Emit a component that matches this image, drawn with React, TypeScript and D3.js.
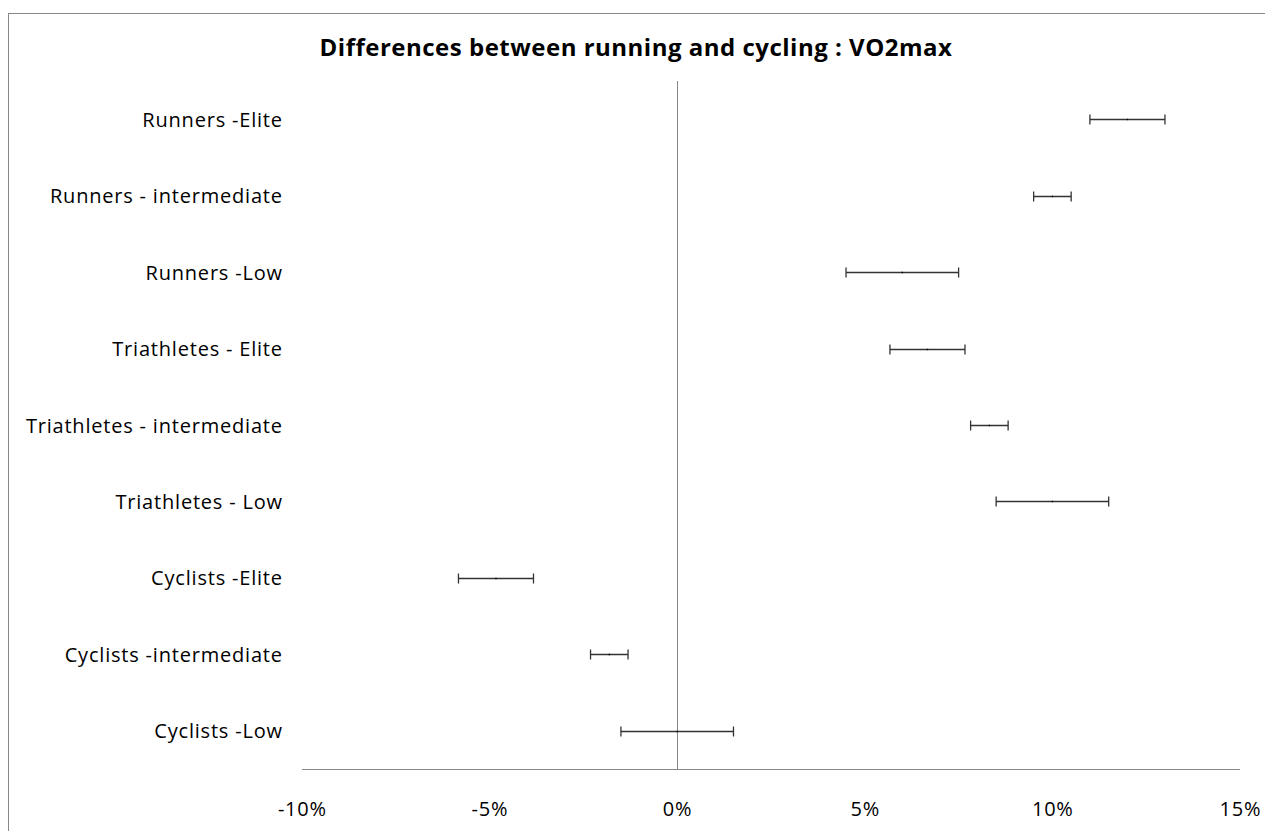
import * as d3 from "d3";

const categories = [
  "Runners -Elite",
  "Runners - intermediate",
  "Runners -Low",
  "Triathletes - Elite",
  "Triathletes - intermediate",
  "Triathletes - Low",
  "Cyclists -Elite",
  "Cyclists -intermediate",
  "Cyclists -Low",
];
// mean difference (%) and error bar half-width (%)
const means = [12, 10, 6, 6.67, 8.32, 10, -4.83, -1.81, 0];
const errors = [1, 0.5, 1.5, 1, 0.5, 1.5, 1, 0.5, 1.5];
const xTicks = [-10, -5, 0, 5, 10, 15];

const W = 1265;
const H = 831;
const left = 302, right = 1240, top = 81, bottom = 769;
const font = "'Open Sans', sans-serif";

export default function App() {
  const x = d3.scaleLinear([-10, 15], [left, right]);
  const y = d3.scaleBand(categories, [top, bottom]);
  const cy = (c: string) => y(c)! + y.bandwidth() / 2;

  return (
    <svg width={W} height={H} style={{ position: "fixed", left: 0, top: 0 }}>
      <rect x={0} y={0} width={W} height={H} fill="white" />
      <rect x={8.5} y={13.5} width={W + 10} height={H + 10} fill="none" stroke="#888" strokeWidth={1} />
      <text x={636} y={46} textAnchor="middle" dominantBaseline="central"
        fontFamily={font} fontWeight="bold" fontSize={24} letterSpacing={0.5} fill="#000">
        Differences between running and cycling : VO2max
      </text>

      {/* axes */}
      <line x1={left} x2={right} y1={bottom + 0.5} y2={bottom + 0.5} stroke="#888" />
      <line x1={Math.round(x(0)) + 0.5} x2={Math.round(x(0)) + 0.5} y1={top} y2={bottom} stroke="#888" />

      {xTicks.map((t) => (
        <text key={t} x={x(t) + 0.4} y={808} textAnchor="middle" dominantBaseline="central"
          fontFamily={font} fontSize={20} letterSpacing={0.8} fill="#000">
          {t + "%"}
        </text>
      ))}

      {categories.map((c) => (
        <text key={c} x={282.8} y={cy(c)} textAnchor="end" dominantBaseline="central"
          fontFamily={font} fontSize={20} letterSpacing={0.8} fill="#000">
          {c}
        </text>
      ))}

      {/* error bars */}
      <g stroke="#333" strokeWidth={1.3} fill="none">
        {categories.map((c, i) => {
          const yy = Math.round(cy(c)) + 0.5;
          const lo = x(means[i] - errors[i]);
          const hi = x(means[i] + errors[i]);
          return (
            <g key={c}>
              <line x1={lo} x2={hi} y1={yy} y2={yy} />
              <line x1={lo} x2={lo} y1={yy - 5} y2={yy + 5} />
              <line x1={hi} x2={hi} y1={yy - 5} y2={yy + 5} />
              <line x1={x(means[i])} x2={x(means[i])} y1={yy - 0.7} y2={yy + 0.7} stroke="#000" />
            </g>
          );
        })}
      </g>
    </svg>
  );
}
